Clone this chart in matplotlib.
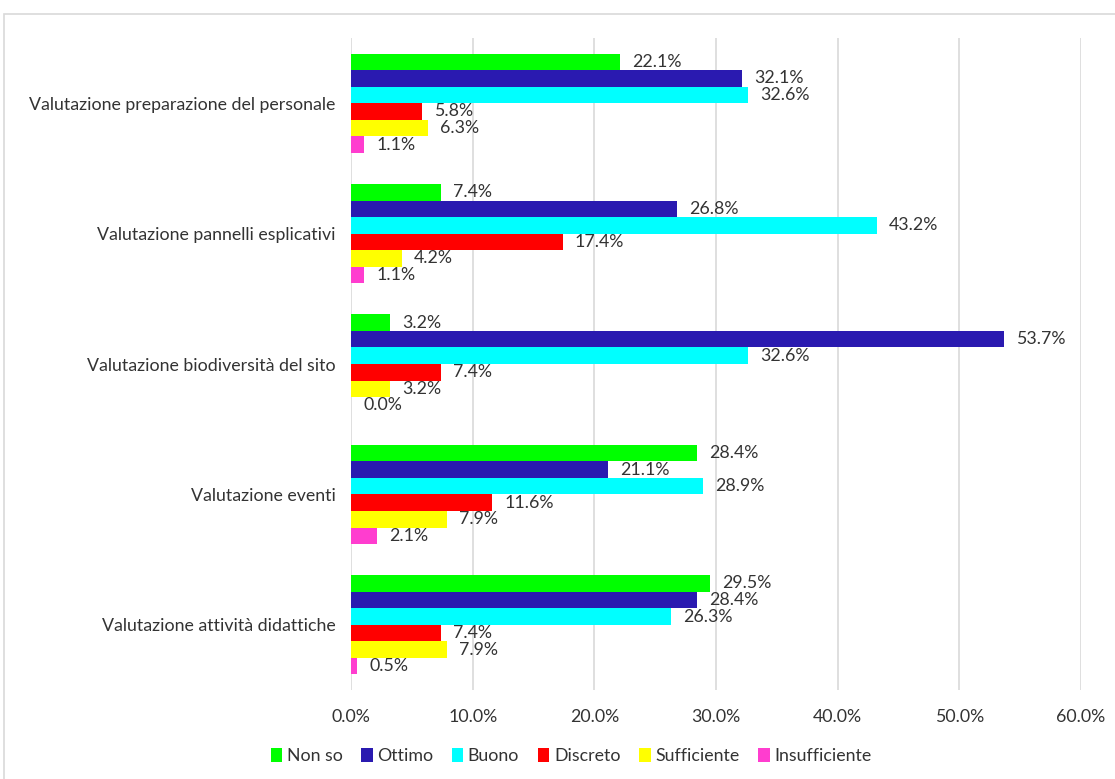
import numpy as np
import matplotlib.pyplot as plt
from matplotlib.patches import Rectangle

plt.rcParams['font.family'] = ['Lato', 'DejaVu Sans']

categories = ["Valutazione preparazione del personale",
              "Valutazione pannelli esplicativi",
              "Valutazione biodiversità del sito",
              "Valutazione eventi",
              "Valutazione attività didattiche"]
series = ["Non so", "Ottimo", "Buono", "Discreto", "Sufficiente", "Insufficiente"]
non_so = [22.1, 7.4, 3.2, 28.4, 29.5]
ottimo = [32.1, 26.8, 53.7, 21.1, 28.4]
buono = [32.6, 43.2, 32.6, 28.9, 26.3]
discreto = [5.8, 17.4, 7.4, 11.6, 7.4]
sufficiente = [6.3, 4.2, 3.2, 7.9, 7.9]
insufficiente = [1.1, 1.1, 0.0, 2.1, 0.5]
values = [non_so, ottimo, buono, discreto, sufficiente, insufficiente]
colors = ["#00FF00", "#2A1AB0", "#00FFFF", "#FF0000", "#FFFF00", "#FF3DCF"]
txt = "#333333"
fs = 12.8

fig = plt.figure(figsize=(11.15, 7.79), dpi=100)
ax = fig.add_axes([0.3148, 0.1142, 0.6547, 0.837])

# outer chart frame
fig.add_artist(Rectangle((0.004, -0.1), 1.2, 1.082, transform=fig.transFigure,
                         fill=False, edgecolor="#D9D9D9", linewidth=1.2))

h = 16.5 / 130
n = len(series)
centers = np.arange(len(categories))
for j, (name, vals, col) in enumerate(zip(series, values, colors)):
    y = centers + (j - (n - 1) / 2) * h
    ax.barh(y, vals, height=h, color=col, label=name, zorder=3)
    for yy, v in zip(y, vals):
        ax.text(v + 1.0, yy, f"{v:.1f}%", va="center", ha="left",
                fontsize=fs, color=txt, zorder=4)

ax.set_xlim(0, 60)
ax.set_ylim(len(categories) - 0.5, -0.5)
ax.set_xticks(np.arange(0, 61, 10))
ax.set_xticklabels([f"{t:.1f}%" for t in np.arange(0, 61, 10)], fontsize=fs, color=txt)
ax.set_yticks(centers)
ax.set_yticklabels(categories, fontsize=fs, color=txt)
ax.tick_params(axis="both", length=0)
ax.tick_params(axis="x", pad=14)
ax.tick_params(axis="y", pad=11)
ax.grid(axis="x", color="#D9D9D9", linewidth=1.2, zorder=0)
for s in ax.spines.values():
    s.set_visible(False)

leg = fig.legend(loc="center", bbox_to_anchor=(0.512, 0.029), ncol=6, frameon=False,
                 fontsize=fs, handlelength=0.65, handleheight=0.8, handletextpad=0.25,
                 columnspacing=1.05)
for t in leg.get_texts():
    t.set_color(txt)

fig.savefig("out.png", dpi=100)
